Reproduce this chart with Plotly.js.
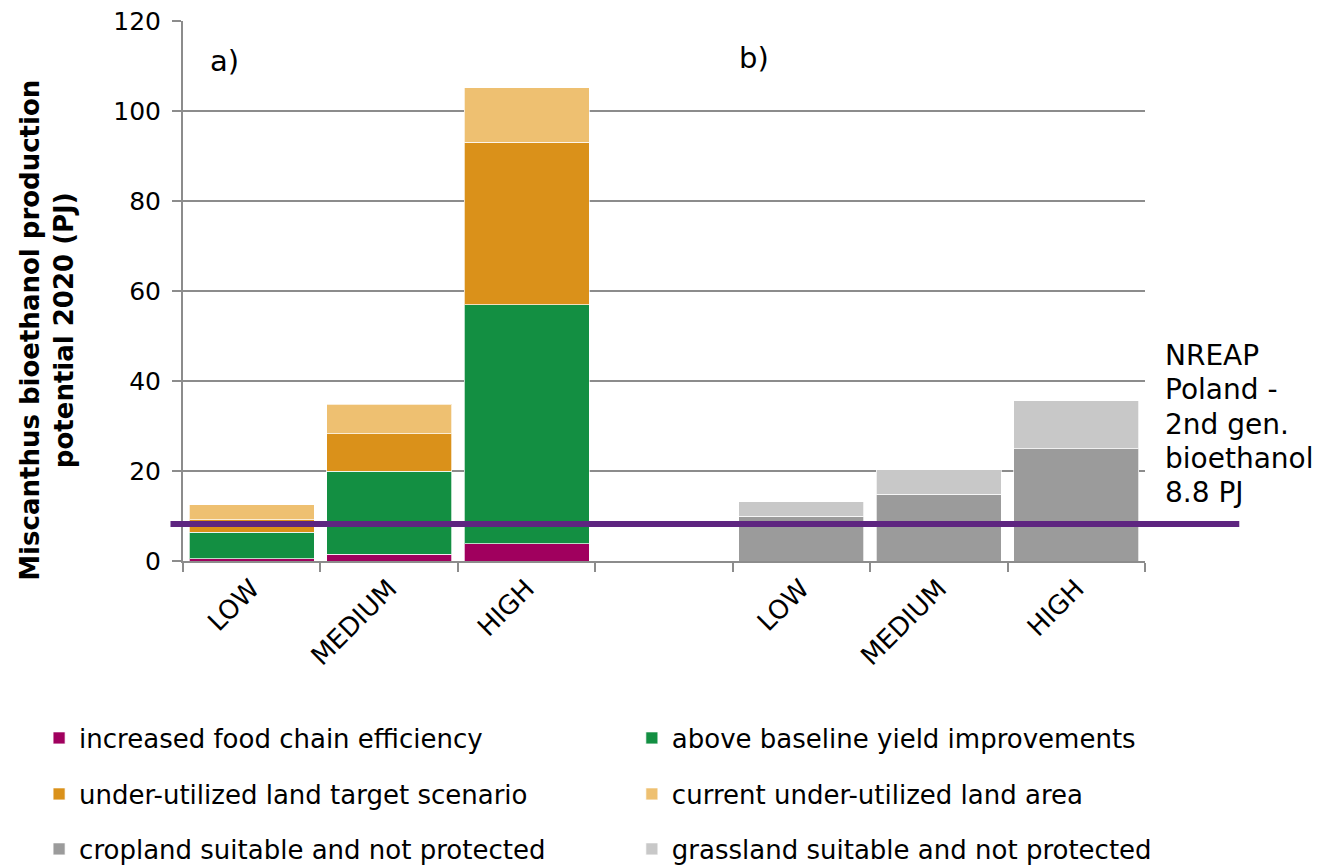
<!DOCTYPE html>
<html>
<head>
<meta charset="utf-8">
<script src="https://cdn.plot.ly/plotly-3.0.1.min.js"></script>
<style>
  html, body { margin: 0; padding: 0; background: #ffffff; }
  #chart { width: 1331px; height: 867px; }
</style>
</head>
<body>
<div id="chart"></div>
<script>
// Categories: panel a) LOW/MEDIUM/HIGH, an empty gap slot, panel b) LOW/MEDIUM/HIGH
const categories = ['LOW', 'MEDIUM', 'HIGH', '\u00a0', 'LOW\u200b', 'MEDIUM\u200b', 'HIGH\u200b'];
const tickLabels = ['LOW', 'MEDIUM', 'HIGH', '', 'LOW', 'MEDIUM', 'HIGH'];

// Stacked segment values (PJ)
const foodChainEfficiency   = [0.5, 1.5, 3.8, null, null, null, null];
const yieldImprovements     = [5.9, 18.5, 53.2, null, null, null, null];
const underUtilizedTarget   = [2.8, 8.3, 36.1, null, null, null, null];
const currentUnderUtilized  = [3.3, 6.5, 12.1, null, null, null, null];
const croplandSuitable      = [null, null, null, null, 9.9, 14.8, 25.0];
const grasslandSuitable     = [null, null, null, null, 3.3, 5.5, 10.6];

const seriesNames = [
  'increased food chain efficiency',
  'above baseline yield improvements',
  'under-utilized land target scenario',
  'current under-utilized land area',
  'cropland suitable and not protected',
  'grassland suitable and not protected'
];
const seriesColors = ['#A0005E', '#138F42', '#DA911A', '#EEC071', '#9B9B9B', '#C8C8C8'];
const seriesValues = [foodChainEfficiency, yieldImprovements, underUtilizedTarget,
                      currentUnderUtilized, croplandSuitable, grasslandSuitable];

// Reference line: NREAP Poland 2nd gen. bioethanol
const nreapLevel = 8.2;
const nreapLines = ['NREAP', 'Poland -', '2nd gen.', 'bioethanol', '8.8 PJ'];
const nreapLineY = [0.380, 0.317, 0.252, 0.189, 0.126];

const FONT = 'DejaVu Sans, Verdana, sans-serif';
const GRID = '#8C8C8C';

// legend grid: two columns, three rows (one legend box per entry)
const legendKeys = ['legend', 'legend2', 'legend3', 'legend4', 'legend5', 'legend6'];
const legendColX = [-0.1496, 0.4666];
const legendRowY = [-0.3278, -0.4315, -0.5333];

const traces = seriesValues.map((vals, i) => ({
  type: 'bar',
  name: seriesNames[i],
  x: categories,
  y: vals,
  legend: legendKeys[i],
  showlegend: true,
  marker: { color: seriesColors[i], line: { color: 'rgba(255,255,255,0.7)', width: 1 } },
  hoverinfo: 'name+y'
}));

const annotations = [
  { text: 'a)', xref: 'paper', yref: 'paper', x: 0.043, y: 0.926,
    xanchor: 'center', yanchor: 'middle', showarrow: false,
    font: { family: FONT, size: 29, color: '#000' } },
  { text: 'b)', xref: 'paper', yref: 'paper', x: 0.594, y: 0.931,
    xanchor: 'center', yanchor: 'middle', showarrow: false,
    font: { family: FONT, size: 29, color: '#000' } },
  { text: 'Miscanthus bioethanol production<br>potential 2020 (PJ)',
    xref: 'paper', yref: 'paper', x: -0.141, y: 0.427,
    xanchor: 'center', yanchor: 'middle', align: 'center', textangle: -90,
    showarrow: false,
    font: { family: FONT, size: 26, color: '#000', weight: 'bold' } }
];
nreapLines.forEach((t, i) => annotations.push({
  text: t, xref: 'paper', yref: 'paper', x: 1.019, y: nreapLineY[i],
  xanchor: 'left', yanchor: 'middle', align: 'left', showarrow: false,
  font: { family: FONT, size: 28, color: '#000' }
}));

const layout = {
  width: 1331, height: 867,
  margin: { l: 183, r: 186, t: 21, b: 306, autoexpand: false },
  paper_bgcolor: '#ffffff', plot_bgcolor: '#ffffff',
  showlegend: true,
  barmode: 'stack',
  bargap: 0.09,
  font: { family: FONT, size: 24, color: '#000' },
  xaxis: {
    type: 'category', automargin: false,
    categoryorder: 'array', categoryarray: categories,
    tickmode: 'array', tickvals: categories, ticktext: tickLabels,
    range: [-0.5, 6.5],
    tickangle: -45,
    tickson: 'boundaries',
    ticks: 'outside', ticklen: 9, tickwidth: 2, tickcolor: GRID,
    showline: true, linecolor: GRID, linewidth: 2,
    showgrid: false, zeroline: false,
    tickfont: { family: FONT, size: 26, color: '#000' }
  },
  yaxis: {
    automargin: false,
    range: [0, 120], tickvals: [0, 20, 40, 60, 80, 100, 120],
    ticks: 'outside', ticklen: 9, tickwidth: 2, tickcolor: GRID,
    ticklabelstandoff: 6,
    showline: true, linecolor: GRID, linewidth: 2,
    showgrid: true, gridcolor: GRID, gridwidth: 2,
    zeroline: false,
    tickfont: { family: FONT, size: 25, color: '#000' },
    title: { text: '' }
  },
  shapes: [{
    type: 'line', xref: 'paper', yref: 'y',
    x0: -0.013, x1: 1.098, y0: nreapLevel, y1: nreapLevel,
    line: { color: '#5E2580', width: 6 }, layer: 'above'
  }],
  annotations: annotations
};

legendKeys.forEach((k, i) => {
  layout[k] = {
    orientation: 'v',
    visible: true,
    xref: 'paper', yref: 'paper',
    x: legendColX[i % 2], y: legendRowY[Math.floor(i / 2)],
    xanchor: 'left', yanchor: 'middle',
    font: { family: FONT, size: 26, color: '#000' },
    itemwidth: 30,
    bgcolor: 'rgba(0,0,0,0)'
  };
});

Plotly.newPlot('chart', traces, layout, { displayModeBar: false, staticPlot: true });
</script>
</body>
</html>
